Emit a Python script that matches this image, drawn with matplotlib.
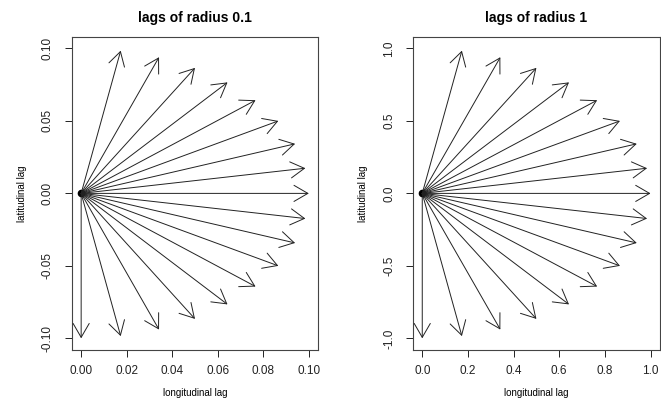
import matplotlib
matplotlib.use('Agg')
import matplotlib.pyplot as plt
import numpy as np

plt.rcParams['font.family'] = ['Liberation Sans', 'DejaVu Sans']

# directions of the lags (degrees from the longitudinal axis)
angles_deg = [-90, -80, -70, -60, -50, -40, -30, -20, -10, 0, 10, 20, 30, 40, 50, 60, 70, 80]
radii = [0.1, 1]
titles = ['lags of radius 0.1', 'lags of radius 1']
xticks = [[0.00, 0.02, 0.04, 0.06, 0.08, 0.10], [0.0, 0.2, 0.4, 0.6, 0.8, 1.0]]
yticks = [[-0.10, -0.05, 0.00, 0.05, 0.10], [-1.0, -0.5, 0.0, 0.5, 1.0]]
tick_fmt = ['%.2f', '%.1f']

fig = plt.figure(figsize=(6.61, 4.05), dpi=100)
positions = [[0.109, 0.136, 0.372, 0.773], [0.625, 0.136, 0.373, 0.773]]

for i in range(2):
    ax = fig.add_axes(positions[i])
    r = radii[i]
    th = np.radians(angles_deg)
    xe = r * np.cos(th)
    ye = r * np.sin(th)
    for x, y in zip(xe, ye):
        ax.annotate('', xy=(x, y), xytext=(0, 0),
                    arrowprops=dict(arrowstyle='->,head_length=1.0,head_width=0.58',
                                    mutation_scale=10, color='#222222', lw=0.7,
                                    shrinkA=0, shrinkB=0))
    ax.plot([0], [0], 'o', color='black', ms=4.5)
    ax.set_xlim(-0.04 * r, 1.04 * r)
    ax.set_ylim(-1.08 * r, 1.08 * r)
    ax.set_xticks(xticks[i])
    ax.set_xticklabels([tick_fmt[i] % v for v in xticks[i]])
    ax.set_yticks(yticks[i])
    ax.set_yticklabels([tick_fmt[i] % v for v in yticks[i]], rotation=90, va='center')
    ax.tick_params(axis='both', direction='out', length=5, width=0.7, labelsize=8.5, colors='#222222')
    ax.tick_params(axis='x', pad=6)
    ax.tick_params(axis='y', pad=8)
    for s in ax.spines.values():
        s.set_color('#444444')
        s.set_linewidth(0.8)
    ax.set_title(titles[i], fontsize=10, fontweight='bold', pad=11)
    ax.set_xlabel('longitudinal lag', fontsize=7, labelpad=8)
    ax.set_ylabel('latitudinal lag', fontsize=7, labelpad=11)

fig.savefig('out.png', dpi=100)
